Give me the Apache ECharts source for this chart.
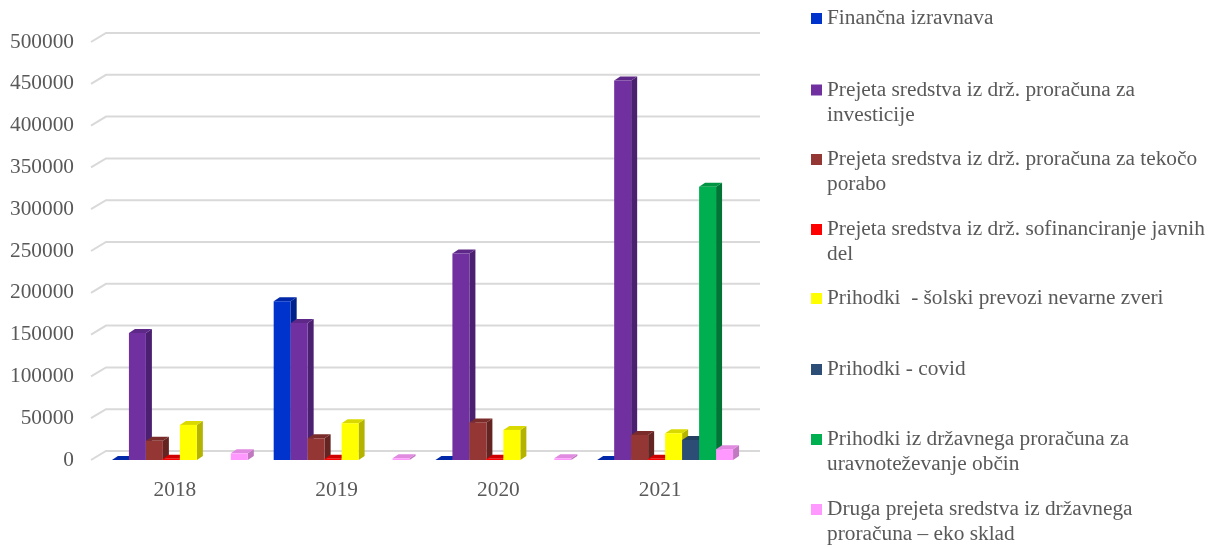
<!DOCTYPE html>
<html><head><meta charset="utf-8">
<script src="https://cdn.jsdelivr.net/npm/echarts@6/dist/echarts.min.js"></script>
<style>html,body{margin:0;padding:0;background:#fff}#c{width:1219px;height:547px}</style>
</head><body><div id="c"></div>
<script>
// ---- data ----
const categories = ['2018', '2019', '2020', '2021'];
const yTicks = [0, 50000, 100000, 150000, 200000, 250000, 300000, 350000, 400000, 450000, 500000];
const seriesNames = [
  'Finančna izravnava',
  'Prejeta sredstva iz drž. proračuna za investicije',
  'Prejeta sredstva iz drž. proračuna za tekočo porabo',
  'Prejeta sredstva iz drž. sofinanciranje javnih del',
  'Prihodki  - šolski prevozi nevarne zveri',
  'Prihodki - covid',
  'Prihodki iz državnega proračuna za uravnoteževanje občin',
  'Druga prejeta sredstva iz državnega proračuna – eko sklad'
];
const legendLabels = [
  'Finančna izravnava',
  'Prejeta sredstva iz drž. proračuna za\ninvesticije',
  'Prejeta sredstva iz drž. proračuna za tekočo\nporabo',
  'Prejeta sredstva iz drž. sofinanciranje javnih\ndel',
  'Prihodki  - šolski prevozi nevarne zveri',
  'Prihodki - covid',
  'Prihodki iz državnega proračuna za\nuravnoteževanje občin',
  'Druga prejeta sredstva iz državnega\nproračuna – eko sklad'
];
const financnaIzravnava = [0, 190000, 0, 0];
const investicije = [152000, 164000, 247000, 454000];
const tekocaPoraba = [23000, 26000, 45000, 30000];
const javnaDela = [1500, 1500, 1500, 1500];
const solskiPrevozi = [42000, 44000, 36000, 32000];
const covid = [null, null, null, 24000];
const uravnotezevanje = [null, null, null, 327000];
const ekoSklad = [8000, 2000, 2000, 13000];
const seriesValues = [financnaIzravnava, investicije, tekocaPoraba, javnaDela, solskiPrevozi, covid, uravnotezevanje, ekoSklad];

// ---- styles ----
const faceColors = [
  ['#0033CC', '#00208A', '#0028A8'],
  ['#7030A0', '#4B2070', '#5E2888'],
  ['#943634', '#632422', '#7A2C2B'],
  ['#FF0000', '#B00000', '#D00000'],
  ['#FFFF00', '#B3B300', '#D9D900'],
  ['#2C4D75', '#1D3350', '#253F60'],
  ['#00B050', '#007535', '#009443'],
  ['#FF99FF', '#C078C0', '#E08AE0']
];
const legendCenters = [18.5, 90, 159.5, 229.5, 298.5, 369.5, 439.5, 509.5];
const TXT = '#595959';
const FONT = 'Liberation Serif';
const FS = 21.33;
const N = seriesNames.length;
const BAR_FRAC = 0.105, SHIFT = 5, DX = 6, DY = 4;

function barRenderer(si) {
  return function (params, api) {
    const v = api.value(1);
    if (v == null || isNaN(v)) return null;
    const cat = api.value(0);
    const base = api.coord([cat, 0]);
    const top = api.coord([cat, v]);
    const bw = api.size([1, 0])[0] * BAR_FRAC;
    const x = base[0] - N * bw / 2 + si * bw + SHIFT;
    const yb = base[1], yt = top[1];
    const c = faceColors[si];
    return {
      type: 'group',
      children: [
        { type: 'polygon', shape: { points: [[x + bw, yt], [x + bw + DX, yt - DY], [x + bw + DX, yb - DY], [x + bw, yb]] }, style: { fill: c[1] } },
        { type: 'polygon', shape: { points: [[x, yt], [x + DX, yt - DY], [x + bw + DX, yt - DY], [x + bw, yt]] }, style: { fill: c[2] } },
        { type: 'rect', shape: { x: x, y: yt, width: bw, height: yb - yt }, style: { fill: c[0] } }
      ]
    };
  };
}

const series = [{
  type: 'custom', name: '_grid', silent: true, z: 0,
  data: yTicks.map(t => [0, t]),
  renderItem: function (params, api) {
    const cs = params.coordSys;
    const y = api.coord([0, api.value(1)])[1];
    const x0 = cs.x - 3;
    return { type: 'polyline', shape: { points: [[x0, y], [x0 + 15, y - 9], [cs.x + cs.width + 19, y - 9]] },
      style: { stroke: '#d9d9d9', lineWidth: 2, fill: null } };
  }
}];
seriesNames.forEach((n, i) => {
  series.push({
    type: 'custom', name: n, z: 2,
    itemStyle: { color: faceColors[i][0] },
    data: seriesValues[i].map((v, k) => [k, v]),
    renderItem: barRenderer(i)
  });
});

// two-line labels get a blank leading line so the icon sits beside the first line
const legends = seriesNames.map((n, i) => {
  const two = legendLabels[i].indexOf('\n') >= 0;
  return {
    data: [n], orient: 'vertical', left: 811,
    top: legendCenters[i] - (two ? 37.5 : 12.5),
    padding: 0, icon: 'rect', itemWidth: 11, itemHeight: 11, selectedMode: false,
    formatter: () => (two ? ' \n' : '') + legendLabels[i],
    textStyle: { fontFamily: FONT, fontSize: FS, color: TXT, lineHeight: 25 }
  };
});

const chart = echarts.init(document.getElementById('c'), null, { renderer: 'canvas' });
chart.setOption({
  animation: false,
  backgroundColor: '#fff',
  grid: { left: 94, right: 478, top: 42, bottom: 87, containLabel: false },
  xAxis: {
    type: 'category', data: categories,
    axisLine: { show: false }, axisTick: { show: false },
    axisLabel: { color: TXT, fontFamily: FONT, fontSize: FS, margin: 20 }
  },
  yAxis: {
    type: 'value', min: 0, max: 500000, interval: 50000,
    axisLine: { show: false }, axisTick: { show: false }, splitLine: { show: false },
    axisLabel: { color: TXT, fontFamily: FONT, fontSize: FS, margin: 20, formatter: v => String(v) }
  },
  legend: legends,
  series: series
});
</script></body></html>
